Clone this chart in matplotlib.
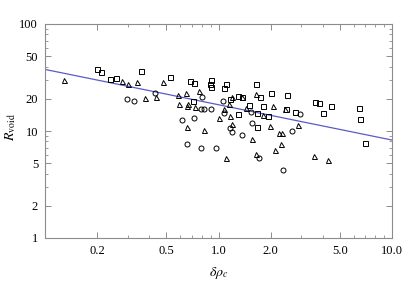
import numpy as np
import matplotlib
matplotlib.use("Agg")
import matplotlib.pyplot as plt
from matplotlib.ticker import FixedLocator, FixedFormatter, NullFormatter

plt.rcParams['font.family'] = ['Liberation Serif', 'DejaVu Serif']
plt.rcParams['mathtext.fontset'] = 'stix'

# squares
sq_x = [0.199, 0.209, 0.238, 0.258, 0.358, 0.527, 0.686, 0.726, 0.711, 0.906,
        0.899, 0.906, 1.07, 1.11, 1.16, 1.30, 1.36, 1.64, 1.74, 2.00,
        2.49, 1.50, 1.81, 2.45, 3.60, 3.78, 4.47, 6.48, 2.75, 4.00,
        1.30, 1.67, 1.92, 6.51, 1.67, 6.98]
sq_y = [37.6, 35.8, 30.4, 31.3, 36.0, 32.2, 29.1, 28.3, 18.9, 30.2,
        27.5, 25.9, 25.1, 27.5, 20.0, 21.2, 21.0, 27.7, 20.6, 22.5,
        21.6, 17.5, 17.2, 16.2, 18.5, 18.3, 17.0, 16.5, 15.0, 14.7,
        14.4, 14.6, 13.9, 12.9, 10.8, 7.8]

# triangles
tri_x = [0.129, 0.278, 0.299, 0.338, 0.378, 0.438, 0.476, 0.586, 0.652, 0.595,
         0.656, 0.671, 0.730, 0.773, 0.662, 0.824, 1.00, 1.08, 1.15, 1.16,
         1.20, 1.20, 1.36, 1.45, 1.64, 1.81, 2.05, 2.42, 1.98, 2.86,
         2.22, 2.31, 2.29, 1.56, 2.12, 1.64, 1.10, 3.55, 4.26]
tri_y = [30.0, 29.5, 27.7, 28.6, 20.3, 20.9, 28.5, 21.7, 22.5, 17.9,
         17.2, 17.9, 16.8, 23.9, 11.0, 10.2, 13.1, 16.1, 17.8, 13.8,
         11.7, 20.6, 21.0, 16.5, 22.2, 14.1, 17.1, 16.2, 11.1, 11.4,
         9.6, 9.6, 7.6, 8.4, 6.6, 6.1, 5.6, 5.8, 5.4]

# circles
cir_x = [0.298, 0.327, 0.428, 0.618, 0.726, 0.804, 0.793, 0.824, 0.906, 1.06,
         1.08, 1.53, 2.93, 0.656, 0.793, 0.964, 1.16, 1.20, 1.36, 1.55,
         2.65, 1.72, 2.35]
cir_y = [20.1, 19.2, 22.7, 12.6, 13.1, 20.6, 15.9, 15.9, 15.9, 19.2,
         14.6, 15.0, 14.4, 7.5, 7.0, 6.9, 10.7, 9.8, 9.2, 11.9,
         10.0, 5.6, 4.3]

# power-law fit R = amp * x^slope
fit_amp = 17.6
fit_slope = -0.33

x_ticks = [0.2, 0.5, 1.0, 2.0, 5.0, 10.0]
x_labels = ['0.2', '0.5', '1.0', '2.0', '5.0', '10.0']
y_ticks = [1, 2, 5, 10, 20, 50, 100]
y_labels = ['1', '2', '5', '10', '20', '50', '100']

fig = plt.figure(figsize=(4.15, 2.82), dpi=100)
ax = fig.add_axes([45/415, 44/282, 347/415, 214/282])
ax.set_xscale('log')
ax.set_yscale('log')
ax.set_xlim(0.1, 10)
ax.set_ylim(1, 100)

xl = np.logspace(-1, 1, 50)
ax.plot(xl, fit_amp * xl**fit_slope, color='#5a5ac8', lw=0.9, zorder=2)

mk = dict(ls='none', mfc='none', mec='black', mew=0.7, ms=3.6, zorder=3)
ax.plot(sq_x, sq_y, marker='s', **mk)
ax.plot(tri_x, tri_y, marker='^', **mk)
ax.plot(cir_x, cir_y, marker='o', **mk)

ax.xaxis.set_major_locator(FixedLocator(x_ticks))
ax.xaxis.set_major_formatter(FixedFormatter(x_labels))
ax.yaxis.set_major_locator(FixedLocator(y_ticks))
ax.yaxis.set_major_formatter(FixedFormatter(y_labels))
xminor = [m * 10.0**e for e in (-1, 0) for m in range(1, 10)]
xminor = [v for v in xminor if not any(abs(v - t) < 1e-9 for t in x_ticks)]
yminor = [m * 10.0**e for e in (0, 1) for m in range(1, 10)]
yminor = [v for v in yminor if not any(abs(v - t) < 1e-9 for t in y_ticks)]
ax.xaxis.set_minor_locator(FixedLocator(xminor))
ax.yaxis.set_minor_locator(FixedLocator(yminor))
ax.xaxis.set_minor_formatter(NullFormatter())
ax.yaxis.set_minor_formatter(NullFormatter())

frame = '#8c8c8c'
for s in ax.spines.values():
    s.set_color(frame)
    s.set_linewidth(0.8)
ax.tick_params(which='both', direction='in', top=True, right=True,
               color=frame, labelsize=9, labelcolor='black')
ax.tick_params(which='major', length=4, width=0.7, pad=5)
ax.tick_params(which='minor', length=2.2, width=0.6)

ax.set_xlabel(r'$\delta\rho_c$', fontsize=10)
ax.xaxis.set_label_coords(0.5, -0.125)
ax.set_ylabel(r'$R_{\rm void}$', fontsize=10)
ax.yaxis.set_label_coords(-0.078, 0.52)

fig.savefig('out.png', dpi=100)
